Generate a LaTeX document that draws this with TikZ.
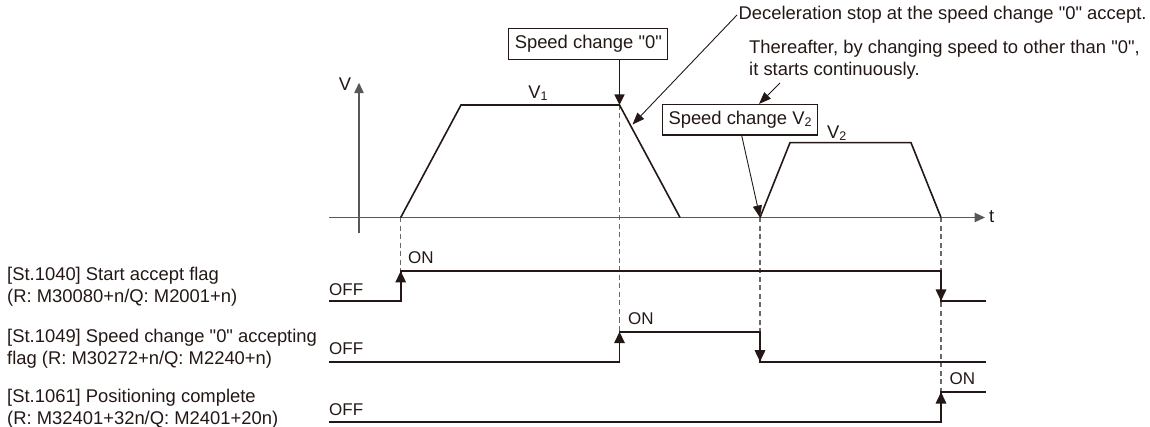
\documentclass[tikz,border=0pt]{standalone}
\usepackage{fontspec}
\setmainfont{Liberation Sans}[Ligatures=TeXOff]
\usetikzlibrary{arrows.meta,calc}
\definecolor{ink}{RGB}{35,24,21}
\definecolor{axisgray}{RGB}{89,87,87}
\definecolor{dashgray}{RGB}{105,105,105}
\newcommand\lowidx[1]{\raisebox{-1.5pt}{\fontsize{12.5}{12.5}\selectfont #1}}
\begin{document}
\begin{tikzpicture}[x=1pt,y=-1pt,
  every node/.style={inner sep=0pt, text=ink, font=\fontsize{18.4}{22}\selectfont},
  tip/.style={-{Triangle[length=11.5pt,width=10.5pt]}},
  sig/.style={draw=ink, line width=1.6pt},
  wave/.style={draw=ink, line width=1.6pt, line join=miter},
  axisline/.style={draw=axisgray, line width=1.2pt, -{Triangle[length=10.5pt,width=9.5pt]}},
  guide/.style={draw=dashgray, line width=1.1pt, dash pattern=on 5pt off 3.5pt},
  pointer/.style={draw=ink, line width=0.9pt, -{Triangle[length=12pt,width=9pt]}},
  boxarrow/.style={draw=ink, line width=1.2pt, -{Triangle[length=10.5pt,width=10pt]}},
  callout/.style={draw=ink, line width=1.2pt, inner xsep=6pt, minimum height=30.5pt, fill=white},
  lbl/.style={anchor=west, align=left},
  small/.style={font=\fontsize{17}{20}\selectfont},
]
\useasboundingbox (0,0) rectangle (1150,427);

% ---------- coordinates ----------
\coordinate (vbot) at (359,232.7);
\coordinate (vtop) at (359,82.7);
\coordinate (tstart) at (329,217.5);
\coordinate (tend) at (985,217.5);

\coordinate (p1bl) at (400.7,217.5);
\coordinate (p1tl) at (461,105);
\coordinate (p1tr) at (619.5,105);
\coordinate (p1br) at (680,217.5);
\coordinate (p2bl) at (760,217.5);
\coordinate (p2tl) at (790,142.7);
\coordinate (p2tr) at (911,142.7);
\coordinate (p2br) at (941,217.5);

\coordinate (s1o) at (329,301);
\coordinate (s1u0) at (400.7,301);
\coordinate (s1u1) at (400.7,271);
\coordinate (s1d0) at (941,271);
\coordinate (s1d1) at (941,301);
\coordinate (s1e) at (986,301);

\coordinate (s2o) at (329,361.7);
\coordinate (s2u0) at (619.5,361.7);
\coordinate (s2u1) at (619.5,331.7);
\coordinate (s2d0) at (760,331.7);
\coordinate (s2d1) at (760,361.7);
\coordinate (s2e) at (986,361.7);

\coordinate (s3o) at (329,422);
\coordinate (s3u0) at (941,422);
\coordinate (s3u1) at (941,392);
\coordinate (s3e) at (986,392);

\coordinate (slope) at (632.5,124.5);
\coordinate (thereFoot) at (780,83);

% ---------- dashed guides ----------
\draw[guide] (p1bl) -- (s1u1);
\draw[guide] (p1tr) -- (s2u1);
\draw[guide] (p2bl) -- (s2d0);
\draw[guide] (p2br) -- (s3u1);

% ---------- axes ----------
\draw[axisline] (vbot) -- (vtop);
\draw[axisline] (tstart) -- (tend);
\node (vlab) at (345,84) {V};
\node[anchor=west] (tlab) at (989,216.5) {t};

% ---------- speed profile ----------
\draw[wave] (p1bl) -- (p1tl) -- (p1tr) -- (p1br);
\draw[wave] (p2bl) -- (p2tl) -- (p2tr) -- (p2br);
\node (v1lab) at (538,93) {V\lowidx{1}};
\node (v2lab) at (836.7,133) {V\lowidx{2}};

% ---------- callouts ----------
\node[callout] (n0box) at (588.3,44) {Speed change "0"};
\draw[boxarrow] (n0box.south -| p1tr) -- (p1tr);

\node[callout] (v2box) at (740,119.8) {Speed change V\lowidx{2}};
\draw[pointer] ([xshift=1.7pt]v2box.south) -- (p2bl);

\node[anchor=west] (decel) at (738.5,15) {Deceleration stop at the speed change "0" accept.};
\draw[pointer] ([xshift=-1.5pt]decel.west) -- (slope);

\node[lbl] (there) at (749,60) {Thereafter, by changing speed to other than "0",\\it starts continuously.};
\draw[pointer] (thereFoot) -- ([xshift=19pt]v2box.north);

% ---------- signal labels ----------
\node[lbl] (sl1) at (7,287) {[St.1040] Start accept flag\\(R: M30080+n/Q: M2001+n)};
\node[lbl] (sl2) at (7,349) {[St.1049] Speed change "0" accepting\\flag (R: M30272+n/Q: M2240+n)};
\node[lbl] (sl3) at (7,408.5) {[St.1061] Positioning complete\\(R: M32401+32n/Q: M2401+20n)};

\node[small, anchor=west] (off1) at (329,289.5) {OFF};
\node[small, anchor=west] (off2) at (329,348.5) {OFF};
\node[small, anchor=west] (off3) at (329,410) {OFF};
\node[small, anchor=west] (on1) at (408,258) {ON};
\node[small, anchor=west] (on2) at (628,318.7) {ON};
\node[small, anchor=west] (on3) at (949.5,379) {ON};

% ---------- signals ----------
\draw[sig] (s1o) -- (s1u0) -- (s1u1) -- (s1d0) -- (s1d1) -- (s1e);
\draw[sig,tip] (s1u0) -- (s1u1);
\draw[sig,tip] (s1d0) -- (s1d1);

\draw[sig] (s2o) -- (s2u0) -- (s2u1) -- (s2d0) -- (s2d1) -- (s2e);
\draw[sig,tip] (s2u0) -- (s2u1);
\draw[sig,tip] (s2d0) -- (s2d1);

\draw[sig] (s3o) -- (s3u0) -- (s3u1) -- (s3e);
\draw[sig,tip] (s3u0) -- (s3u1);
\end{tikzpicture}
\end{document}
